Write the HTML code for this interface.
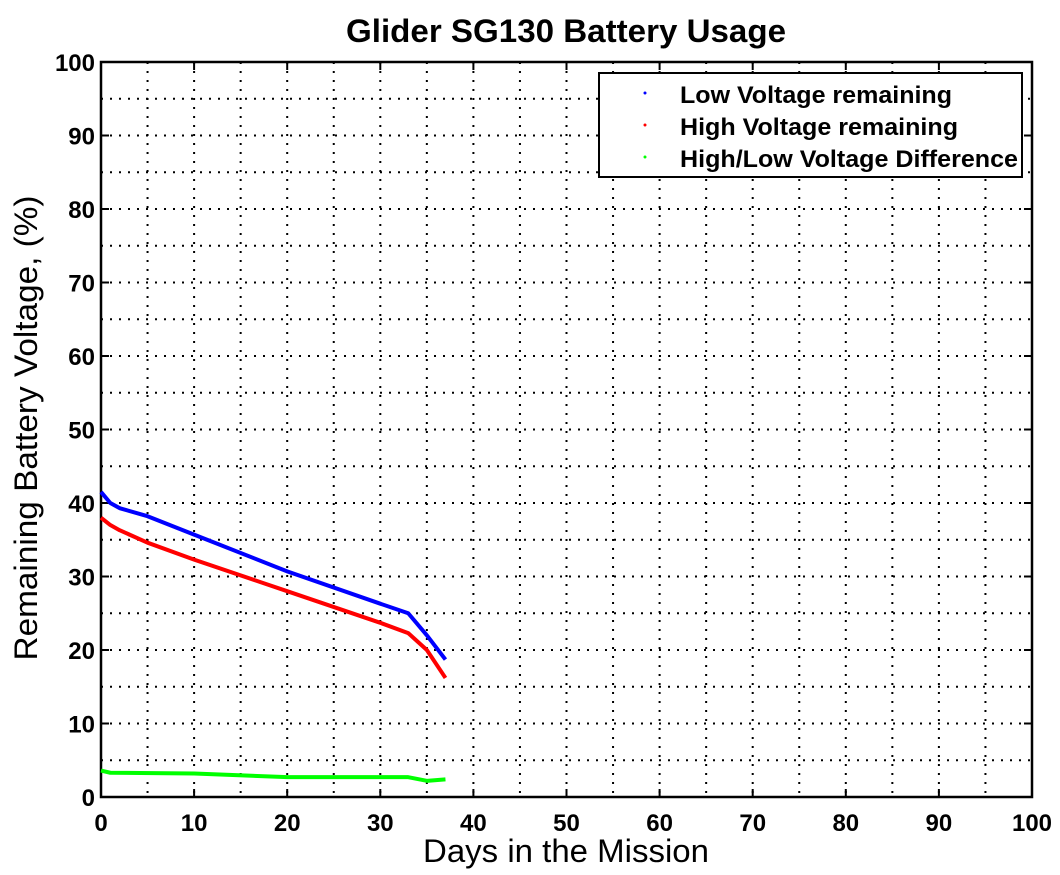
<!DOCTYPE html>
<html><head><meta charset="utf-8"><style>body{margin:0;background:#fff}svg{display:block}</style></head><body>
<svg id="s" width="1060" height="875" xmlns="http://www.w3.org/2000/svg" font-family="Liberation Sans, sans-serif">
<rect width="1060" height="875" fill="#fff"/>
<g id="grid" stroke="#000" stroke-width="2" stroke-dasharray="2,7"></g>
<g id="ticks" stroke="#000" stroke-width="2"></g>
<rect x="101" y="62" width="931" height="735" fill="none" stroke="#000" stroke-width="2.5"/>
<g id="lbl" font-weight="bold" font-size="24" fill="#000"></g>
<g id="series" fill="none" stroke-width="4" stroke-linejoin="round"></g>
<rect x="599" y="73" width="423" height="104" fill="#fff" stroke="#000" stroke-width="2"/>
<circle cx="645" cy="93" r="1.5" fill="#0000ff"/>
<circle cx="645" cy="125" r="1.5" fill="#ff0000"/>
<circle cx="645" cy="157" r="1.5" fill="#00ff00"/>
<g font-weight="bold" font-size="24">
<text x="680" y="103" textLength="272" lengthAdjust="spacingAndGlyphs">Low Voltage remaining</text>
<text x="680" y="135" textLength="278" lengthAdjust="spacingAndGlyphs">High Voltage remaining</text>
<text x="680" y="167" textLength="338" lengthAdjust="spacingAndGlyphs">High/Low Voltage Difference</text>
</g>
<text x="566" y="42" text-anchor="middle" font-weight="bold" font-size="32" textLength="440" lengthAdjust="spacingAndGlyphs">Glider SG130 Battery Usage</text>
<text x="566" y="862" text-anchor="middle" font-size="32" textLength="286" lengthAdjust="spacingAndGlyphs">Days in the Mission</text>
<text transform="translate(37,428) rotate(-90)" text-anchor="middle" font-size="32" textLength="465" lengthAdjust="spacingAndGlyphs">Remaining Battery Voltage, (%)</text>
</svg>
<script>
const X=v=>101+v*9.31, Y=v=>797-v*7.35, ns="http://www.w3.org/2000/svg";
function el(p,t,a){const e=document.createElementNS(ns,t);for(const k in a)e.setAttribute(k,a[k]);document.getElementById(p).appendChild(e);return e;}
for(let v=5;v<100;v+=5){el("grid","line",{x1:X(v),x2:X(v),y1:62,y2:797});el("grid","line",{y1:Y(v),y2:Y(v),x1:101,x2:1032});}
for(let v=10;v<100;v+=10){el("ticks","line",{x1:X(v),x2:X(v),y1:797,y2:789});el("ticks","line",{x1:X(v),x2:X(v),y1:62,y2:70});
el("ticks","line",{y1:Y(v),y2:Y(v),x1:101,x2:109});el("ticks","line",{y1:Y(v),y2:Y(v),x1:1032,x2:1024});}
for(let v=0;v<=100;v+=10){el("lbl","text",{x:X(v),y:831,"text-anchor":"middle"}).textContent=v;
el("lbl","text",{x:95,y:Y(v)+9,"text-anchor":"end"}).textContent=v;}
const d={"#0000ff":[[0,41.5],[1,40],[2,39.3],[5,38.2],[10,35.7],[20,30.7],[30,26.3],[33,25],[35,22],[37,18.7]],
"#ff0000":[[0,38],[1,37],[2,36.3],[5,34.6],[10,32.3],[20,28],[30,23.7],[33,22.3],[35,20],[37,16.2]],
"#00ff00":[[0,3.6],[1,3.3],[10,3.2],[20,2.7],[33,2.7],[35,2.2],[37,2.4]]};
for(const c in d)el("series","polyline",{stroke:c,points:d[c].map(p=>X(p[0])+","+Y(p[1])).join(" ")});
</script>
</body></html>
